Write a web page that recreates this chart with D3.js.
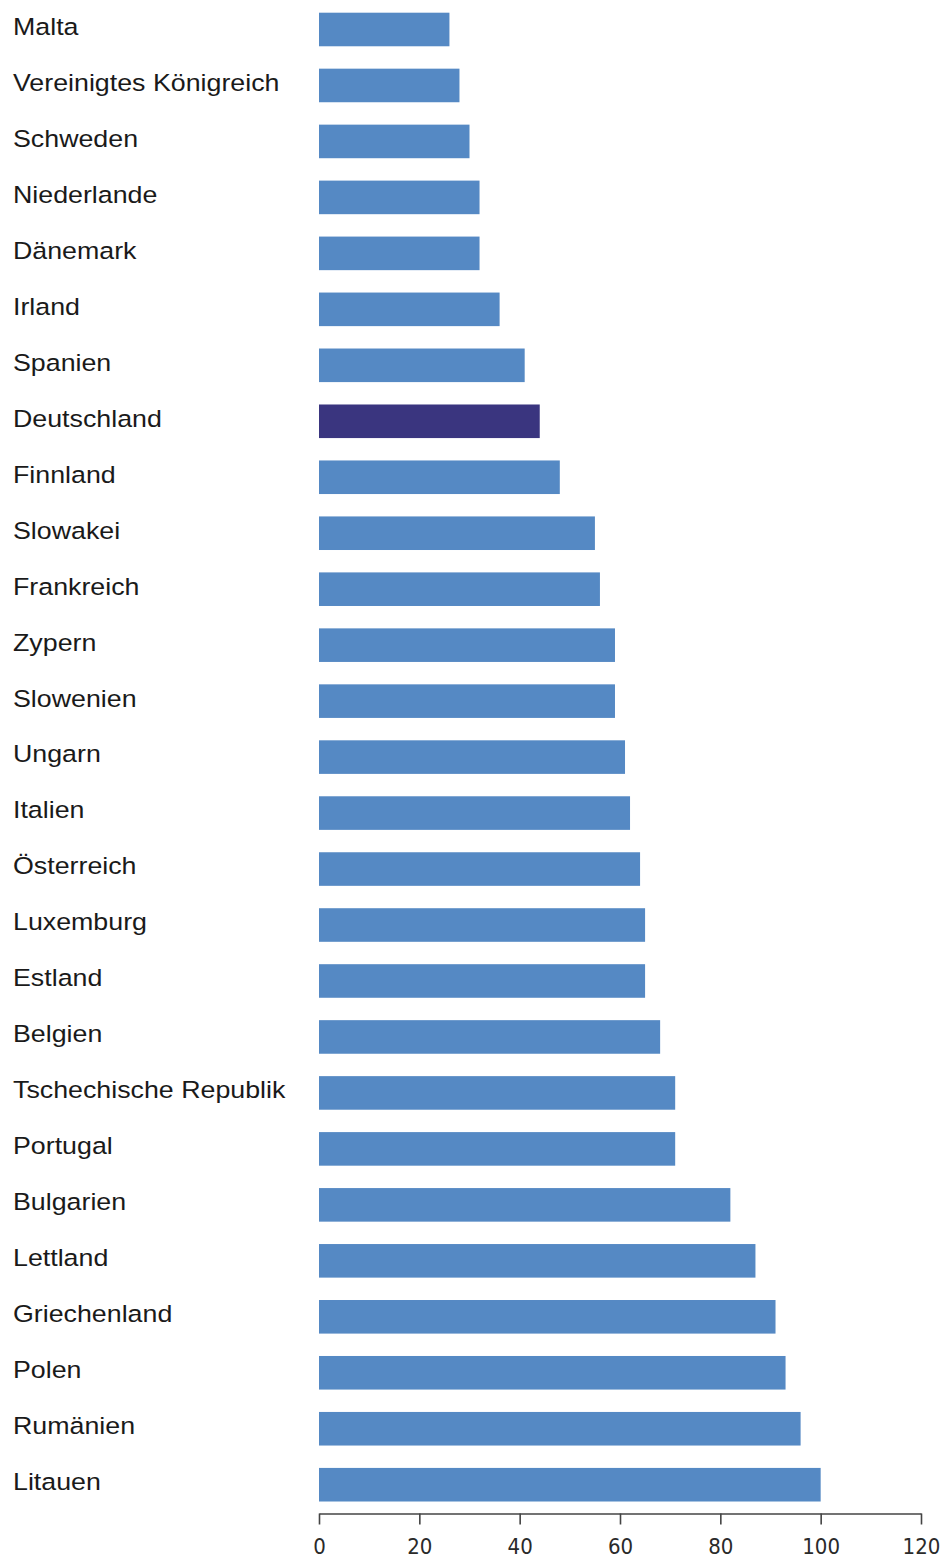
<!DOCTYPE html>
<html>
<head>
<meta charset="utf-8">
<title>Balken</title>
<script src="https://d3js.org/d3.v7.min.js"></script>
<style>
  body { margin: 0; background: #fff; }
  .label { font-family: "Liberation Sans", Arial, sans-serif; font-size: 23.5px; fill: #1a1a1a; }
  .axis text { font-family: "DejaVu Sans Condensed", "DejaVu Sans", sans-serif; font-size: 22px; fill: #2a2a2a; }
  .axis path, .axis line { stroke: #444; stroke-width: 1.6px; }
</style>
</head>
<body>
<div id="chart"></div>
<script>
const countries = ["Malta", "Vereinigtes Königreich", "Schweden", "Niederlande", "Dänemark",
  "Irland", "Spanien", "Deutschland", "Finnland", "Slowakei", "Frankreich", "Zypern",
  "Slowenien", "Ungarn", "Italien", "Österreich", "Luxemburg", "Estland", "Belgien",
  "Tschechische Republik", "Portugal", "Bulgarien", "Lettland", "Griechenland", "Polen",
  "Rumänien", "Litauen"];
const values = [26, 28, 30, 32, 32, 36, 41, 44, 48, 55, 56, 59, 59, 61, 62, 64, 65, 65, 68,
  71, 71, 82, 87, 91, 93, 96, 100];
const highlight = "Deutschland";
const xTicks = [0, 20, 40, 60, 80, 100, 120];

const W = 944, H = 1560;
const sx = 1.14; // labels are drawn a little wider

const svg = d3.select("#chart").append("svg")
  .attr("width", W).attr("height", H);

const x = d3.scaleLinear().domain([0, 120]).range([319, 921]);
const y = d3.scaleBand().domain(countries).range([1.5, 1512.7])
  .paddingInner(0.4).paddingOuter(0.2);

svg.selectAll("rect.bar")
  .data(countries)
  .enter().append("rect")
  .attr("class", "bar")
  .attr("x", x(0))
  .attr("y", d => y(d))
  .attr("width", (d, i) => x(values[i]) - x(0))
  .attr("height", y.bandwidth())
  .attr("fill", d => d === highlight ? "#3a357f" : "#5589c4");

svg.selectAll("text.label")
  .data(countries)
  .enter().append("text")
  .attr("class", "label")
  .attr("transform", "scale(" + sx + ",1)")
  .attr("x", 13 / sx)
  .attr("y", d => y(d) + y.bandwidth() / 2 - 3)
  .attr("dominant-baseline", "central")
  .text(d => d);

const xAxis = d3.axisBottom(x).tickValues(xTicks).tickSize(11).tickSizeOuter(0).tickPadding(14);
svg.append("g")
  .attr("class", "axis")
  .attr("transform", "translate(0,1513.5)")
  .call(xAxis);
</script>
</body>
</html>
